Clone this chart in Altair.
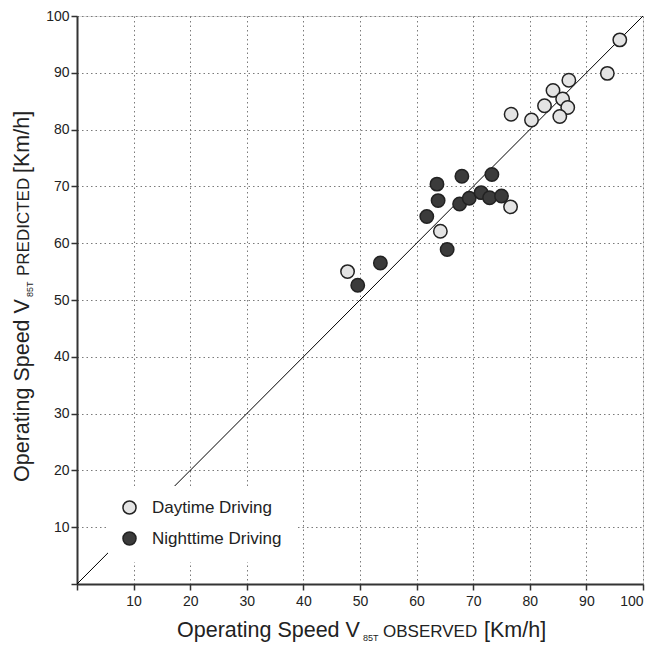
import altair as alt
import pandas as pd

# ---- data ----
day_obs = [47.8, 64.2, 76.6, 95.9, 93.7, 86.9, 84.1, 85.8, 82.6, 86.7, 85.3, 80.3, 76.7]
day_pred = [55.0, 62.1, 66.4, 95.8, 89.9, 88.7, 86.9, 85.4, 84.2, 83.9, 82.3, 81.7, 82.7]
night_obs = [49.6, 53.6, 63.6, 63.8, 61.8, 65.4, 68.0, 73.3, 67.6, 69.3, 71.4, 72.9, 75.0]
night_pred = [52.6, 56.5, 70.4, 67.5, 64.7, 58.9, 71.8, 72.1, 66.9, 67.9, 68.9, 68.0, 68.3]
series_names = ["Daytime Driving", "Nighttime Driving"]
series_fill = ["#e4e4e4", "#3b3b3b"]
diag_vals = [0, 100]
tick_vals = [0, 10, 20, 30, 40, 50, 60, 70, 80, 90, 100]

x_title_parts = ["Operating Speed V", "85T", "OBSERVED", "[Km/h]"]
y_title_parts = ["Operating Speed V", "85T", "PREDICTED", "[Km/h]"]

FONT = "Liberation Sans"
W, H = 566, 568

pts = pd.DataFrame({
    "obs": day_obs + night_obs,
    "pred": day_pred + night_pred,
    "series": [series_names[0]] * len(day_obs) + [series_names[1]] * len(night_obs),
})
diag = pd.DataFrame({"obs": diag_vals, "pred": diag_vals})

xscale = alt.Scale(domain=[0, 100], nice=False, zero=False)
yscale = alt.Scale(domain=[0, 100], nice=False, zero=False)

common_axis = dict(
    values=tick_vals, title=None, grid=True, gridDash=[1.5, 3], gridColor="#7a7a7a",
    gridWidth=1, domainColor="#333333", domainWidth=2, tickColor="#333333",
    tickWidth=1.5, tickSize=6, labelFont=FONT, labelFontSize=14, labelColor="#222222",
    labelExpr="datum.value == 0 ? '' : datum.label",
)
x_axis = alt.Axis(labelPadding=4, **common_axis)
y_axis = alt.Axis(labelPadding=2, **common_axis)

line = alt.Chart(diag).mark_line(color="black", strokeWidth=1).encode(
    x=alt.X("obs:Q", scale=xscale, axis=x_axis),
    y=alt.Y("pred:Q", scale=yscale, axis=y_axis),
)

points = alt.Chart(pts).mark_point(
    shape="circle", filled=True, size=180, stroke="#222222", strokeWidth=1.5, opacity=1
).encode(
    x=alt.X("obs:Q", scale=xscale),
    y=alt.Y("pred:Q", scale=yscale),
    fill=alt.Fill(
        "series:N",
        scale=alt.Scale(domain=series_names, range=series_fill),
        legend=alt.Legend(
            title=None, orient="none", legendX=31, legendY=470, fillColor="white",
            padding=13, labelFont=FONT, labelFontSize=17, labelColor="#222222",
            rowPadding=10, labelOffset=14, symbolType="circle", symbolSize=170,
            symbolStrokeColor="#222222", symbolStrokeWidth=1.5,
        ),
    ),
)


def txt(s, x, y, size, angle=0):
    return alt.Chart(pd.DataFrame({"t": [s]})).mark_text(
        font=FONT, fontSize=size, color="#222222", align="left",
        baseline="alphabetic", angle=angle,
    ).encode(x=alt.value(x), y=alt.value(y), text="t:N")


# x-axis title pieces (plot origin at 77,16)
xt = [
    txt(x_title_parts[0], 100, 621, 21.5),
    txt(x_title_parts[1], 286, 625, 9),
    txt(x_title_parts[2], 306, 621, 17),
    txt(x_title_parts[3], 407, 621, 21.5),
]
# y-axis title pieces
yt = [
    txt(y_title_parts[0], -48.5, 466, 21.5, 270),
    txt(y_title_parts[1], -44.5, 281, 9, 270),
    txt(y_title_parts[2], -48.5, 260, 17, 270),
    txt(y_title_parts[3], -48.5, 157, 21.5, 270),
]

chart = alt.layer(line, points, *xt, *yt).properties(
    width=W, height=H,
    autosize=alt.AutoSizeParams(type="none"),
    padding={"left": 77, "top": 16, "right": 17, "bottom": 62},
).configure_view(stroke="#333333", strokeWidth=2).configure(background="white")

chart.save("out.html", embed_options={"renderer": "svg", "actions": False})
